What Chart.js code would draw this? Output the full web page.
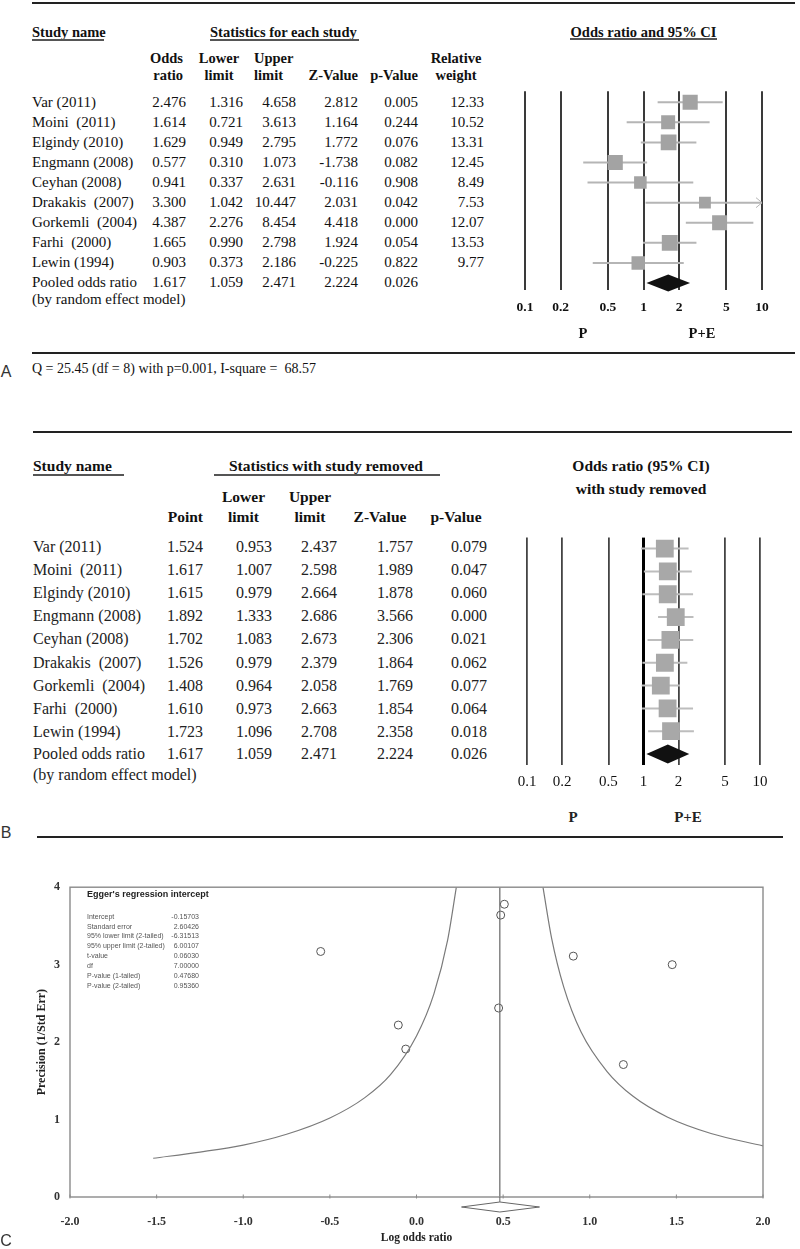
<!DOCTYPE html>
<html>
<head>
<meta charset="utf-8">
<title>Forest plots and funnel plot</title>
<script src="https://cdn.jsdelivr.net/npm/chart.js@4"></script>
<style>
  html, body { margin: 0; padding: 0; background: #fff; }
  #page { position: relative; width: 800px; height: 1249px; overflow: hidden; font-family: "Liberation Serif", serif; }
  canvas { position: absolute; }
  .t { position: absolute; white-space: pre; line-height: 1; }
  .rule { position: absolute; }
</style>
</head>
<body>
<div id="page">
  <canvas id="forestA" width="300" height="280" style="left:500px;top:80px"></canvas>
  <canvas id="forestB" width="300" height="280" style="left:500px;top:525px"></canvas>
  <canvas id="funnel" width="800" height="379" style="left:0;top:870px"></canvas>
</div>
<script>
// ---- panel A : statistics for each study
const studies = ['Var (2011)', 'Moini  (2011)', 'Elgindy (2010)', 'Engmann (2008)', 'Ceyhan (2008)',
  'Drakakis  (2007)', 'Gorkemli  (2004)', 'Farhi  (2000)', 'Lewin (1994)'];
const oddsRatio  = [2.476, 1.614, 1.629, 0.577, 0.941, 3.300, 4.387, 1.665, 0.903];
const lowerLimit = [1.316, 0.721, 0.949, 0.310, 0.337, 1.042, 2.276, 0.990, 0.373];
const upperLimit = [4.658, 3.613, 2.795, 1.073, 2.631, 10.447, 8.454, 2.798, 2.186];
const zValue     = [2.812, 1.164, 1.772, -1.738, -0.116, 2.031, 4.418, 1.924, -0.225];
const pValue     = [0.005, 0.244, 0.076, 0.082, 0.908, 0.042, 0.000, 0.054, 0.822];
const relWeight  = [12.33, 10.52, 13.31, 12.45, 8.49, 7.53, 12.07, 13.53, 9.77];
const pooled     = [1.617, 1.059, 2.471, 2.224, 0.026];   // OR, lower, upper, Z, p
const heterogeneity = 'Q = 25.45 (df = 8) with p=0.001, I-square =  68.57';

// ---- panel B : with study removed
const removedPoint = [1.524, 1.617, 1.615, 1.892, 1.702, 1.526, 1.408, 1.610, 1.723];
const removedLower = [0.953, 1.007, 0.979, 1.333, 1.083, 0.979, 0.964, 0.973, 1.096];
const removedUpper = [2.437, 2.598, 2.664, 2.686, 2.673, 2.379, 2.058, 2.663, 2.708];
const removedZ     = [1.757, 1.989, 1.878, 3.566, 2.306, 1.864, 1.769, 1.854, 2.358];
const removedP     = [0.079, 0.047, 0.060, 0.000, 0.021, 0.062, 0.077, 0.064, 0.018];

const orTicks = [0.1, 0.2, 0.5, 1, 2, 5, 10];
const orTickLabels = ['0.1', '0.2', '0.5', '1', '2', '5', '10'];

// ---- panel C : funnel plot
const funnelLogOR     = [0.905, 0.474, 0.486, -0.553, -0.062, 1.194, 1.476, 0.507, -0.105];
const funnelPrecision = [3.11, 2.44, 3.64, 3.17, 1.91, 1.71, 3.00, 3.78, 2.22];
const leftCurveX  = [-1.52, -1.25, -1.0, -0.75, -0.5, -0.3, -0.15, 0.0, 0.1, 0.18, 0.23];
const leftCurveY  = [0.50, 0.58, 0.67, 0.81, 1.02, 1.28, 1.58, 2.08, 2.62, 3.32, 4.0];
const rightCurveX = [0.73, 0.78, 0.85, 0.95, 1.1, 1.25, 1.45, 1.7, 2.0];
const rightCurveY = [4.0, 3.34, 2.71, 2.13, 1.62, 1.30, 1.03, 0.82, 0.66];
const pooledLogOR = 0.481;
const funnelDiamond = [0.26, 0.71];
const funnelXTicks = [-2, -1.5, -1, -0.5, 0, 0.5, 1, 1.5, 2];
const funnelXLabels = ['-2.0', '-1.5', '-1.0', '-0.5', '0.0', '0.5', '1.0', '1.5', '2.0'];
const funnelYTicks = [0, 1, 2, 3, 4];
const eggerLabels = ['Intercept', 'Standard error', '95% lower limit (2-tailed)', '95% upper limit (2-tailed)',
  't-value', 'df', 'P-value (1-tailed)', 'P-value (2-tailed)'];
const eggerValues = ['-0.15703', '2.60426', '-6.31513', '6.00107', '0.06030', '7.00000', '0.47680', '0.95360'];

const page = document.getElementById('page');
const serif = '"Liberation Serif", serif';

function put(text, x, y, align, font, color) {
  const d = document.createElement('div');
  d.className = 't';
  d.textContent = text;
  const tx = align === 'right' ? '-100%' : align === 'center' ? '-50%' : '0';
  d.style.left = x + 'px';
  d.style.top = y + 'px';
  d.style.font = font;
  d.style.color = color || '#111';
  d.style.transform = 'translate(' + tx + ',-50%)';
  page.appendChild(d);
}
function rule(x0, x1, y, h, color) {
  const d = document.createElement('div');
  d.className = 'rule';
  d.style.cssText = 'left:' + x0 + 'px;top:' + (y - h / 2) + 'px;width:' + (x1 - x0) + 'px;height:' + h + 'px;background:' + color;
  page.appendChild(d);
}

// ---------- panel A text
const headA = 'bold 14.5px ' + serif;
const bodyA = '15px ' + serif;
rule(32, 795, 3, 2.5, '#222');
put('Study name', 32, 32, 'left', headA); rule(32, 104, 40, 1.5, '#555');
put('Statistics for each study', 210, 32, 'left', headA); rule(210, 359, 40, 1.5, '#555');
put('Odds ratio and 95% CI', 643.5, 32, 'center', headA); rule(570, 717, 39, 1.5, '#555');
put('Odds', 183, 58, 'right', headA); put('ratio', 183, 75, 'right', headA);
put('Lower', 219, 58, 'center', headA); put('limit', 219, 75, 'center', headA);
put('Upper', 254, 58, 'left', headA); put('limit', 254, 75, 'left', headA);
put('Z-Value', 358, 75, 'right', headA);
put('p-Value', 418, 75, 'right', headA);
put('Relative', 456, 58, 'center', headA); put('weight', 456, 75, 'center', headA);

const colA = [186, 243, 296, 358, 418, 484];
studies.forEach((name, i) => {
  const y = 101.5 + i * 20.1;
  put(name, 32, y, 'left', bodyA);
  [oddsRatio[i].toFixed(3), lowerLimit[i].toFixed(3), upperLimit[i].toFixed(3),
   zValue[i].toFixed(3), pValue[i].toFixed(3), relWeight[i].toFixed(2)]
    .forEach((s, j) => put(s, colA[j], y, 'right', bodyA));
});
put('Pooled odds ratio', 32, 282.4, 'left', bodyA);
pooled.forEach((v, j) => put(v.toFixed(3), colA[j], 282.4, 'right', bodyA));
put('(by random effect model)', 32, 298.5, 'left', bodyA);
put('P', 583, 333, 'center', headA);
put('P+E', 702, 333, 'center', headA);
rule(32, 795, 352.5, 2, '#222');
put('A', 6, 372, 'center', '16px "Liberation Sans", sans-serif', '#333');
put(heterogeneity, 32, 369, 'left', '14px ' + serif);

// ---------- panel B text
const headB = 'bold 15.5px ' + serif;
const bodyB = '16px ' + serif;
rule(33, 792, 432, 2.5, '#222');
put('Study name', 33, 466, 'left', headB); rule(33, 124, 475, 1.5, '#555');
put('Statistics with study removed', 229, 466, 'left', headB); rule(214, 440, 475, 1.5, '#555');
put('Odds ratio (95% CI)', 641, 466, 'center', headB);
put('with study removed', 641, 489, 'center', headB);
put('Point', 203, 517, 'right', headB);
put('Lower', 243.5, 497, 'center', headB); put('limit', 243.5, 517, 'center', headB);
put('Upper', 310, 497, 'center', headB); put('limit', 310, 517, 'center', headB);
put('Z-Value', 380, 517, 'center', headB);
put('p-Value', 456, 517, 'center', headB);

const colB = [203, 272, 337, 413, 487];
studies.forEach((name, i) => {
  const y = 547 + i * 23.1;
  put(name, 33, y, 'left', bodyB, '#222');
  [removedPoint[i], removedLower[i], removedUpper[i], removedZ[i], removedP[i]]
    .forEach((v, j) => put(v.toFixed(3), colB[j], y, 'right', bodyB, '#222'));
});
put('Pooled odds ratio', 33, 754, 'left', bodyB, '#222');
pooled.forEach((v, j) => put(v.toFixed(3), colB[j], 754, 'right', bodyB, '#222'));
put('(by random effect model)', 33, 775, 'left', bodyB, '#222');
put('P', 573, 817, 'center', 'bold 15px ' + serif, '#222');
put('P+E', 688, 817, 'center', 'bold 15px ' + serif, '#222');
rule(37, 783, 837, 2, '#222');
put('B', 6, 833, 'center', '16px "Liberation Sans", sans-serif', '#333');

// ---------- panel C text
put('C', 6, 1241, 'center', '16px "Liberation Sans", sans-serif', '#333');
put("Egger's regression intercept", 87, 893.5, 'left', 'bold 9px "Liberation Sans", sans-serif', '#222');
eggerLabels.forEach((lab, i) => {
  const y = 915.7 + i * 9.85;
  put(lab, 87, y, 'left', '7px "Liberation Sans", sans-serif', '#555');
  put(eggerValues[i], 199, y, 'right', '7px "Liberation Sans", sans-serif', '#555');
});

// ---------- charts
Chart.defaults.font.family = serif;
Chart.defaults.animation = false;

function forestMarks(lower, upper, pooledRow, st) {
  return {
    id: 'forestMarks',
    beforeDatasetsDraw(chart) {
      const {ctx, scales: {x, y}} = chart;
      ctx.save();
      ctx.strokeStyle = st.ci;
      ctx.lineWidth = 2;
      lower.forEach((lo, i) => {
        const py = y.getPixelForValue(i);
        const x0 = x.getPixelForValue(Math.max(lo, x.min));
        const x1 = x.getPixelForValue(Math.min(upper[i], x.max));
        ctx.beginPath(); ctx.moveTo(x0, py); ctx.lineTo(x1, py); ctx.stroke();
        if (upper[i] > x.max) {
          ctx.lineWidth = 1;
          ctx.beginPath(); ctx.moveTo(x1 - 6, py - 5); ctx.lineTo(x1, py); ctx.lineTo(x1 - 6, py + 5); ctx.stroke();
          ctx.lineWidth = 2;
        }
      });
      ctx.restore();
    },
    afterDatasetsDraw(chart) {
      const {ctx, scales: {x, y}} = chart;
      const py = y.getPixelForValue(lower.length);
      ctx.save();
      ctx.fillStyle = '#111';
      ctx.beginPath();
      ctx.moveTo(x.getPixelForValue(pooledRow[1]), py);
      ctx.lineTo(x.getPixelForValue(pooledRow[0]), py - st.dh);
      ctx.lineTo(x.getPixelForValue(pooledRow[2]), py);
      ctx.lineTo(x.getPixelForValue(pooledRow[0]), py + st.dh);
      ctx.closePath();
      ctx.fill();
      ctx.restore();
    }
  };
}

function forestChart(id, est, lower, upper, sizes, st) {
  return new Chart(document.getElementById(id), {
    type: 'scatter',
    data: {
      datasets: [{
        data: est.map((v, i) => ({x: v, y: i})),
        pointStyle: 'rect',
        pointRadius: sizes,
        pointHoverRadius: sizes,
        backgroundColor: st.square,
        borderWidth: 0
      }]
    },
    options: {
      responsive: false,
      events: [],
      layout: {padding: st.padding},
      plugins: {legend: {display: false}, tooltip: {enabled: false}},
      scales: {
        x: {
          type: 'logarithmic', min: 0.1, max: 10,
          afterBuildTicks: s => { s.ticks = orTicks.map(v => ({value: v})); },
          afterFit: s => { s.height = st.axisHeight; },
          ticks: {autoSkip: false, maxRotation: 0, padding: st.tickPad, color: '#111',
                  font: st.tickFont, callback: (v, i) => orTickLabels[i]},
          grid: {color: st.gridColor, lineWidth: st.gridWidth, drawTicks: false},
          border: {display: false}
        },
        y: {type: 'linear', reverse: true, min: st.ymin, max: st.ymax, display: false}
      }
    },
    plugins: [forestMarks(lower, upper, [pooled[0], pooled[1], pooled[2]], st)]
  });
}

forestChart('forestA', oddsRatio, lowerLimit, upperLimit,
  relWeight.map(w => 3.05 * Math.sqrt(w)), {
    square: '#a3a3a3', ci: '#b5b5b5', dh: 8.5,
    padding: {top: 10, left: 25, right: 38, bottom: 0},
    axisHeight: 70, tickPad: 9, ymin: -0.55, ymax: 9.35,
    tickFont: {size: 13.5, weight: 'bold'},
    gridColor: '#3a3a3a', gridWidth: 2
  });

forestChart('forestB', removedPoint, removedLower, removedUpper,
  removedPoint.map(() => 12.6), {
    square: '#a8a8a8', ci: '#bdbdbd', dh: 9.5,
    padding: {top: 10, left: 27, right: 40, bottom: 0},
    axisHeight: 40, tickPad: 8, ymin: -0.48, ymax: 9.48,
    tickFont: {size: 15},
    gridColor: ctx => ctx.tick && ctx.tick.value === 1 ? '#000' : '#444',
    gridWidth: ctx => ctx.tick && ctx.tick.value === 1 ? 3 : 1.8
  });

const funnelBox = {
  id: 'funnelBox',
  afterDraw(chart) {
    const {ctx, chartArea: a, scales: {x}} = chart;
    ctx.save();
    ctx.strokeStyle = '#8a8a8a';
    ctx.lineWidth = 1.4;
    ctx.strokeRect(a.left, a.top, a.right - a.left, a.bottom - a.top);
    // small tick marks across the bottom axis
    ctx.lineWidth = 1;
    x.ticks.forEach(t => {
      const px = x.getPixelForValue(t.value);
      ctx.beginPath(); ctx.moveTo(px, a.bottom - 2.5); ctx.lineTo(px, a.bottom + 1.5); ctx.stroke();
    });
    // pooled estimate diamond under the axis
    const cy = a.bottom + 10, cx = x.getPixelForValue(pooledLogOR);
    ctx.strokeStyle = '#666';
    ctx.beginPath();
    ctx.moveTo(cx, a.bottom); ctx.lineTo(cx, cy - 5); ctx.stroke();
    ctx.beginPath();
    ctx.moveTo(x.getPixelForValue(funnelDiamond[0]), cy);
    ctx.lineTo(cx, cy - 5);
    ctx.lineTo(x.getPixelForValue(funnelDiamond[1]), cy);
    ctx.lineTo(cx, cy + 5);
    ctx.closePath();
    ctx.stroke();
    ctx.restore();
  }
};

const curveStyle = {type: 'line', borderColor: '#7a7a7a', borderWidth: 1.2, pointRadius: 0,
                    cubicInterpolationMode: 'monotone', fill: false};

new Chart(document.getElementById('funnel'), {
  type: 'scatter',
  data: {
    datasets: [
      Object.assign({data: leftCurveX.map((v, i) => ({x: v, y: leftCurveY[i]}))}, curveStyle),
      Object.assign({data: rightCurveX.map((v, i) => ({x: v, y: rightCurveY[i]}))}, curveStyle),
      {type: 'line', data: [{x: pooledLogOR, y: 0}, {x: pooledLogOR, y: 4}],
       borderColor: '#666', borderWidth: 1.2, pointRadius: 0},
      {data: funnelLogOR.map((v, i) => ({x: v, y: funnelPrecision[i]})),
       pointStyle: 'circle', pointRadius: 4, borderColor: '#555', borderWidth: 1,
       backgroundColor: 'rgba(0,0,0,0)'}
    ]
  },
  options: {
    responsive: false,
    events: [],
    layout: {padding: {top: 11, right: 37, left: 0, bottom: 0}},
    plugins: {legend: {display: false}, tooltip: {enabled: false}},
    scales: {
      x: {
        type: 'linear', min: -2, max: 2,
        afterBuildTicks: s => { s.ticks = funnelXTicks.map(v => ({value: v})); },
        afterFit: s => { s.height = 52; },
        ticks: {autoSkip: false, maxRotation: 0, padding: 17.5, color: '#333',
                font: {size: 12, weight: 'bold'}, callback: (v, i) => funnelXLabels[i]},
        grid: {display: false, drawTicks: false},
        border: {display: false},
        title: {display: true, text: 'Log odds ratio', color: '#222',
                font: {size: 11.5, weight: 'bold'}, padding: {top: 0, bottom: 4}}
      },
      y: {
        type: 'linear', min: 0, max: 4,
        afterBuildTicks: s => { s.ticks = funnelYTicks.map(v => ({value: v})); },
        afterFit: s => { s.width = 70; },
        ticks: {padding: 10, color: '#333', font: {size: 12, weight: 'bold'}},
        grid: {display: false, drawTicks: false},
        border: {display: false},
        title: {display: true, text: 'Precision (1/Std Err)', color: '#222',
                font: {size: 12, weight: 'bold'}, padding: {top: 35, bottom: 0}}
      }
    }
  },
  plugins: [funnelBox]
});
</script>
</body>
</html>
